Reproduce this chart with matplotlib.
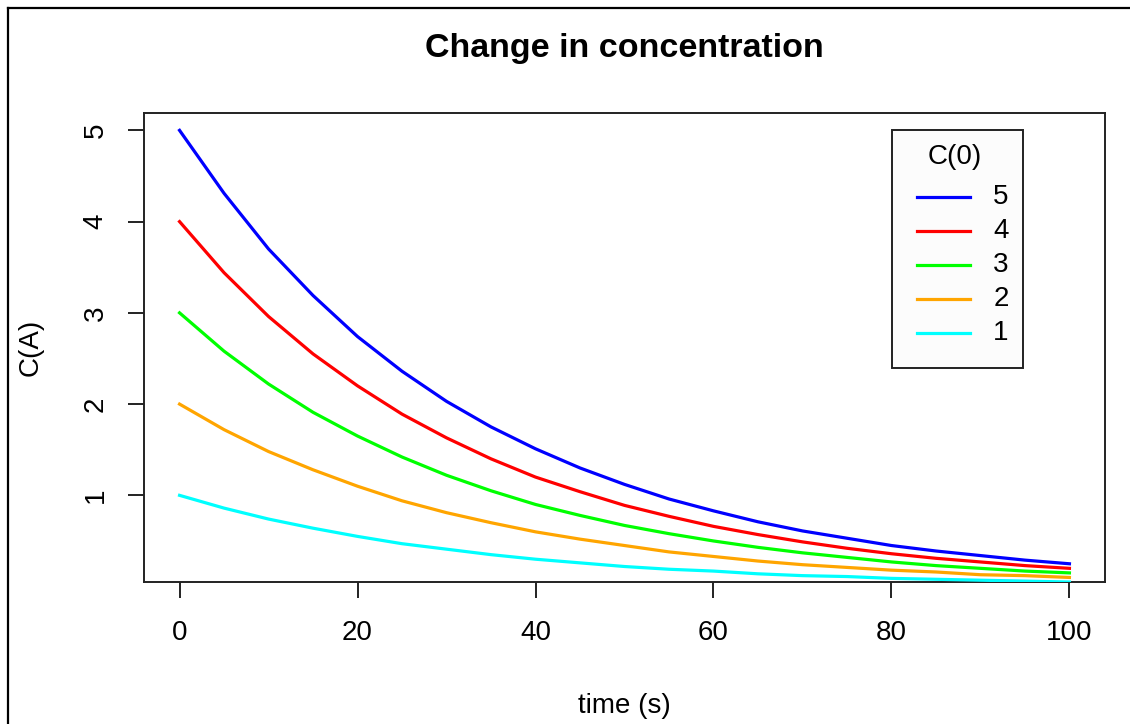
import matplotlib
matplotlib.use("Agg")
import matplotlib.pyplot as plt
from matplotlib.lines import Line2D
from matplotlib.patches import Rectangle

plt.rcParams['font.family'] = ['Liberation Sans', 'DejaVu Sans']

# time points (s)
time = [0, 5, 10, 15, 20, 25, 30, 35, 40, 45, 50,
        55, 60, 65, 70, 75, 80, 85, 90, 95, 100]

# concentration, one list per starting value C(0)
conc_5 = [5.00, 4.31, 3.70, 3.19, 2.74, 2.36, 2.03, 1.75, 1.51, 1.30, 1.12,
          0.96, 0.83, 0.71, 0.61, 0.53, 0.45, 0.39, 0.34, 0.29, 0.25]
conc_4 = [4.00, 3.44, 2.96, 2.55, 2.20, 1.89, 1.63, 1.40, 1.20, 1.04, 0.89,
          0.77, 0.66, 0.57, 0.49, 0.42, 0.36, 0.31, 0.27, 0.23, 0.20]
conc_3 = [3.00, 2.58, 2.22, 1.91, 1.65, 1.42, 1.22, 1.05, 0.90, 0.78, 0.67,
          0.58, 0.50, 0.43, 0.37, 0.32, 0.27, 0.23, 0.20, 0.17, 0.15]
conc_2 = [2.00, 1.72, 1.48, 1.28, 1.10, 0.94, 0.81, 0.70, 0.60, 0.52, 0.45,
          0.38, 0.33, 0.28, 0.24, 0.21, 0.18, 0.16, 0.13, 0.12, 0.10]
conc_1 = [1.00, 0.86, 0.74, 0.64, 0.55, 0.47, 0.41, 0.35, 0.30, 0.26, 0.22,
          0.19, 0.17, 0.14, 0.12, 0.11, 0.09, 0.08, 0.07, 0.06, 0.05]

labels = ['5', '4', '3', '2', '1']
colors = ['#0000ff', '#ff0000', '#00ff00', '#ffa500', '#00ffff']
series = [conc_5, conc_4, conc_3, conc_2, conc_1]

W, H = 1130, 724
fig = plt.figure(figsize=(W / 100, H / 100), dpi=100)
ax = fig.add_axes([0.1274, 0.1961, 0.8505, 0.6478])


def px(x, y):
    """pixel position (from top left) -> figure fraction"""
    return x / W, 1 - y / H


for vals, col, lab in zip(series, colors, labels):
    ax.plot(time, vals, color=col, lw=2.3, label=lab, zorder=3)

ax.set_xlim(-4, 104)
ax.set_ylim(0.05, 5.19)
ax.set_xticks([0, 20, 40, 60, 80, 100])
ax.set_yticks([1, 2, 3, 4, 5])
ax.tick_params(length=11.5, width=1.4, labelsize=20, color='#222222')
ax.tick_params(axis='x', pad=15.5)
ax.tick_params(axis='y', pad=14)
for lab in ax.get_yticklabels():
    lab.set_rotation(90)
    lab.set_va('center')
for sp in ax.spines.values():
    sp.set_linewidth(1.4)
    sp.set_color('#222222')

ax.set_xlabel('time (s)', fontsize=20, labelpad=34)
ax.set_ylabel('C(A)', fontsize=20, labelpad=28)
ax.set_title('Change in concentration', fontsize=24.5, fontweight='bold', pad=40)

# legend box drawn the way R's legend() lays it out
x0, y0 = px(892, 368)
x1, y1 = px(1023, 130)
fig.add_artist(Rectangle((x0, y0), x1 - x0, y1 - y0, transform=fig.transFigure,
                         facecolor='#fcfcfc', edgecolor='#222222', lw=1.4))
fig.text(*px(955, 157), 'C(0)', fontsize=20, ha='center', va='center')
for i, (col, lab) in enumerate(zip(colors, labels)):
    yy = 197 + 34 * i
    xa, ya = px(917, yy)
    xb, _ = px(970, yy)
    fig.add_artist(Line2D([xa, xb], [ya, ya], transform=fig.transFigure,
                          color=col, lw=2.3))
    fig.text(*px(1001, yy), lab, fontsize=20, ha='center', va='center')

# screenshot frame around the whole plot
fig.add_artist(Line2D([8 / W, 8 / W], [0, 1 - 8 / H],
                      transform=fig.transFigure, color='black', lw=1.6))
fig.add_artist(Line2D([8 / W, 1], [1 - 8 / H, 1 - 8 / H],
                      transform=fig.transFigure, color='black', lw=1.6))

fig.savefig('out.png', dpi=100)
